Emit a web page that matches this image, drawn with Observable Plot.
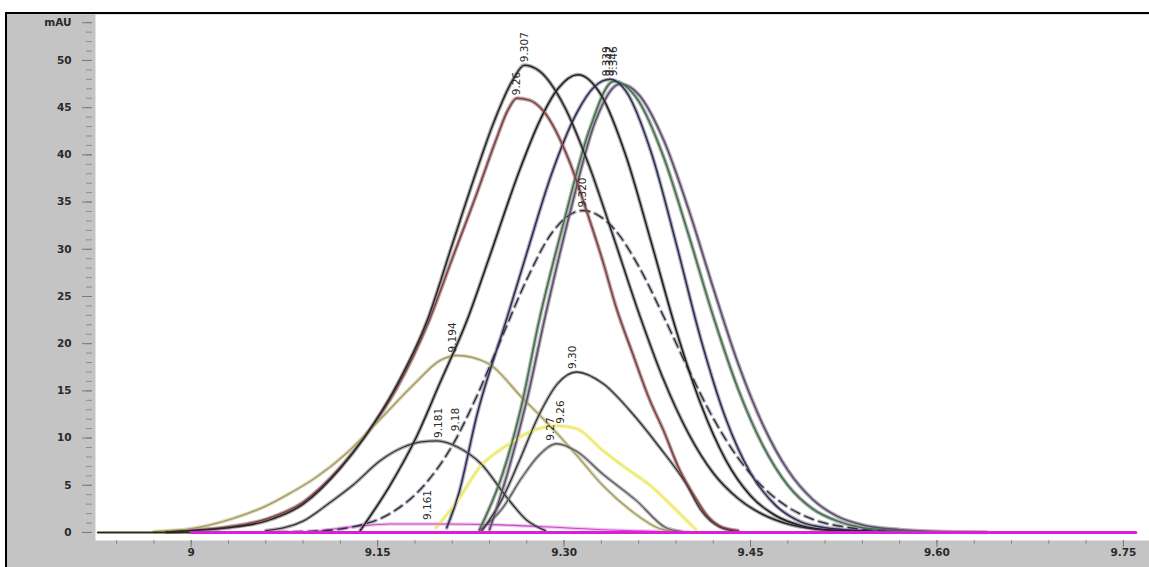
<!DOCTYPE html>
<html><head><meta charset="utf-8">
<script src="https://cdn.jsdelivr.net/npm/d3@7"></script>
<script src="https://cdn.jsdelivr.net/npm/@observablehq/plot@0.6"></script>
<style>
html,body{margin:0;padding:0;background:#fff;}
#wrap{position:relative;width:1149px;height:567px;overflow:hidden;}
#panel{position:absolute;left:5px;top:12px;width:1144px;height:555px;background:#c4c4c4;border-left:2px solid #000;border-top:2px solid #000;box-sizing:border-box;}
#chart{position:absolute;left:0;top:0;}
</style></head><body>
<div id="wrap"><div id="panel"></div><div id="chart"></div></div>
<script>
// ---- data (retention time in min, absorbance in mAU) ----
const peakA_t = [8.98, 9.00, 9.03, 9.06, 9.09, 9.12, 9.14, 9.165, 9.19, 9.21, 9.227, 9.243, 9.259, 9.268, 9.28, 9.30, 9.32, 9.34, 9.36, 9.38, 9.40, 9.42, 9.44, 9.46, 9.48, 9.50, 9.53, 9.57];
const peakA_v = [0.05, 0.2, 0.5, 1.2, 3.0, 6.8, 10.2, 15.5, 22.5, 30.5, 37.3, 43.3, 48.0, 49.5, 48.9, 45.2, 38.9, 31.2, 23.3, 16.2, 10.5, 6.3, 3.6, 1.9, 0.9, 0.4, 0.15, 0.05];

const peakR_t = [8.98, 9.00, 9.03, 9.06, 9.09, 9.12, 9.14, 9.165, 9.19, 9.21, 9.23, 9.245, 9.255, 9.262, 9.272, 9.283, 9.304, 9.318, 9.331, 9.342, 9.355, 9.369, 9.38, 9.393, 9.405, 9.415, 9.425, 9.44];
const peakR_v = [0.05, 0.2, 0.6, 1.4, 3.2, 6.9, 10.2, 15.2, 22.0, 29.0, 36.0, 41.5, 44.8, 46.0, 45.8, 44.7, 39.4, 34.1, 28.8, 23.8, 19.0, 14.0, 10.8, 6.6, 3.8, 1.8, 0.7, 0.2];

const peakB_t = [9.136, 9.16, 9.18, 9.20, 9.222, 9.24, 9.264, 9.28, 9.295, 9.311, 9.33, 9.35, 9.37, 9.39, 9.41, 9.43, 9.45, 9.47, 9.49, 9.52, 9.56];
const peakB_v = [0.2, 5.0, 9.8, 15.8, 22.5, 29.2, 38.3, 43.5, 47.0, 48.5, 46.3, 39.8, 30.8, 21.5, 13.6, 7.7, 3.9, 1.8, 0.75, 0.2, 0.05];

const peakC1_t = [9.2056, 9.215, 9.23, 9.254, 9.27, 9.29, 9.31, 9.325, 9.337, 9.35, 9.37, 9.39, 9.41, 9.43, 9.45, 9.47, 9.49, 9.51, 9.54, 9.58];
const peakC1_v = [0.5, 4.0, 12.5, 22.7, 29.6, 38.0, 44.4, 47.3, 48.0, 46.7, 40.3, 30.7, 20.5, 12.1, 6.3, 2.9, 1.15, 0.5, 0.2, 0.05];

const peakC2_t = [9.232, 9.25, 9.265, 9.28, 9.30, 9.32, 9.34, 9.36, 9.38, 9.40, 9.42, 9.44, 9.46, 9.48, 9.50, 9.52, 9.54, 9.57, 9.61];
const peakC2_v = [0.3, 6.0, 13.0, 22.5, 33.0, 42.5, 47.8, 45.7, 39.8, 31.6, 22.9, 15.2, 9.2, 5.0, 2.5, 1.2, 0.5, 0.2, 0.05];

const peakC3_t = [9.24, 9.255, 9.27, 9.285, 9.305, 9.325, 9.345, 9.36, 9.38, 9.40, 9.42, 9.44, 9.46, 9.48, 9.50, 9.52, 9.54, 9.57, 9.60, 9.64];
const peakC3_v = [0.3, 6.5, 14.0, 23.0, 34.0, 43.5, 47.5, 46.4, 41.6, 34.3, 25.9, 17.9, 11.4, 6.6, 3.5, 1.7, 0.8, 0.3, 0.1, 0.03];

const peakD_t = [9.07, 9.10, 9.13, 9.16, 9.19, 9.21, 9.23, 9.25, 9.27, 9.29, 9.315, 9.34, 9.36, 9.38, 9.40, 9.42, 9.44, 9.46, 9.48, 9.50, 9.53, 9.56];
const peakD_v = [0.05, 0.15, 0.6, 2.0, 5.4, 9.2, 14.5, 20.7, 26.8, 31.7, 34.1, 32.2, 28.2, 22.9, 17.3, 12.1, 7.9, 4.8, 2.7, 1.4, 0.5, 0.15];

const peakO_t = [8.97, 9.00, 9.034, 9.06, 9.08, 9.10, 9.125, 9.152, 9.18, 9.20, 9.214, 9.239, 9.266, 9.288, 9.31, 9.331, 9.355, 9.377, 9.39];
const peakO_v = [0.1, 0.4, 1.5, 2.8, 4.2, 5.8, 8.4, 12.0, 15.8, 18.2, 18.75, 17.9, 14.3, 11.4, 8.2, 5.0, 2.2, 0.4, 0.1];

const peakP_t = [9.234, 9.25, 9.264, 9.28, 9.295, 9.31, 9.331, 9.353, 9.377, 9.398, 9.41, 9.425, 9.44];
const peakP_v = [0.2, 3.5, 7.6, 12.5, 15.8, 17.0, 15.8, 12.9, 9.0, 5.2, 2.4, 0.6, 0.1];

const peakY_t = [9.197, 9.215, 9.232, 9.255, 9.275, 9.295, 9.31, 9.331, 9.35, 9.371, 9.39, 9.406];
const peakY_v = [0.5, 3.5, 6.9, 9.3, 10.8, 11.3, 11.0, 8.7, 6.8, 4.8, 2.4, 0.3];

const peakG_t = [9.232, 9.25, 9.266, 9.28, 9.294, 9.31, 9.331, 9.358, 9.382, 9.395];
const peakG_v = [0.2, 2.5, 5.8, 8.2, 9.4, 8.6, 6.2, 3.4, 0.5, 0.1];

const peakS_t = [9.06, 9.09, 9.112, 9.13, 9.152, 9.17, 9.185, 9.198, 9.215, 9.233, 9.254, 9.27, 9.285];
const peakS_v = [0.2, 1.2, 3.2, 5.0, 7.6, 9.0, 9.6, 9.7, 9.0, 7.3, 3.7, 1.3, 0.2];

const peakM_t = [9.10, 9.13, 9.16, 9.20, 9.25, 9.30, 9.35, 9.40];
const peakM_v = [0.1, 0.6, 0.9, 0.9, 0.8, 0.5, 0.2, 0.05];

const baseDark_t = [8.925, 9.0];
const baseDark_v = [0, 0];
const baseMag_t = [9.0, 9.76];
const baseMag_v = [0, 0];

const labelText = ["9.26", "9.307", "9.339", "9.342", "9.346", "9.320", "9.194", "9.30", "9.26", "9.27", "9.181", "9.18", "9.161"];
const labelTime = [9.262, 9.268, 9.334, 9.337, 9.340, 9.315, 9.210, 9.307, 9.297, 9.289, 9.199, 9.213, 9.19];
const labelHeight = [46.0, 49.5, 48.0, 48.0, 48.0, 34.1, 18.75, 17.0, 11.2, 9.4, 9.7, 10.4, 1.0];

const yTicks = [0, 5, 10, 15, 20, 25, 30, 35, 40, 45, 50];
const yUnitLabel = "mAU";
const yUnitAt = 54;
const xTicks = [9, 9.15, 9.30, 9.45, 9.60, 9.75];
const xTickLabels = ["9", "9.15", "9.30", "9.45", "9.60", "9.75"];

// ---- styles (kept apart from the data) ----
const series = [
  ["O", peakO_t, peakO_v, {stroke: "#a39a5c", halo: "#d6d2b4", w: 1.3}],
  ["Y", peakY_t, peakY_v, {stroke: "#eeea6a", halo: "#f6f4c0", w: 2.0}],
  ["M", peakM_t, peakM_v, {stroke: "#cc44cc", halo: "#e8c0e8", w: 1.1}],
  ["S", peakS_t, peakS_v, {stroke: "#333333", halo: "#a8a8a8", w: 1.3}],
  ["G", peakG_t, peakG_v, {stroke: "#5c5c5c", halo: "#b4b4b4", w: 1.3}],
  ["P", peakP_t, peakP_v, {stroke: "#333333", halo: "#a8a8a8", w: 1.3}],
  ["D", peakD_t, peakD_v, {stroke: "#2e2e3e", halo: "#b0b0b8", w: 1.4, dash: "9,6"}],
  ["C3", peakC3_t, peakC3_v, {stroke: "#5e4a6e", halo: "#a4a0a8", w: 1.5}],
  ["C2", peakC2_t, peakC2_v, {stroke: "#3f7048", halo: "#a0a8a2", w: 1.5}],
  ["C1", peakC1_t, peakC1_v, {stroke: "#2c2c58", halo: "#a0a0ac", w: 1.5}],
  ["B", peakB_t, peakB_v, {stroke: "#1e1e1e", halo: "#9c9c9c", w: 1.5}],
  ["R", peakR_t, peakR_v, {stroke: "#8b3b3b", halo: "#a89a9a", w: 1.5}],
  ["A", peakA_t, peakA_v, {stroke: "#262626", halo: "#9c9c9c", w: 1.5}]
];

const toRows = (t, v) => t.map((x, i) => ({t: x, v: v[i]}));

const marks = [Plot.frame({fill: "white", stroke: "none"})];

for (const [name, t, v, s] of series) {
  marks.push(Plot.line(toRows(t, v), {x: "t", y: "v", curve: "monotone-x", stroke: s.halo, strokeWidth: s.w + 2.4, strokeDasharray: s.dash, strokeOpacity: 0.85}));
}
for (const [name, t, v, s] of series) {
  marks.push(Plot.line(toRows(t, v), {x: "t", y: "v", curve: "monotone-x", stroke: s.stroke, strokeWidth: s.w, strokeDasharray: s.dash}));
}
marks.push(Plot.line(toRows(baseDark_t, baseDark_v), {x: "t", y: "v", stroke: "#2a2a10", strokeWidth: 2.2}));
marks.push(Plot.line(toRows(baseMag_t, baseMag_v), {x: "t", y: "v", stroke: "#dc1edc", strokeWidth: 3}));

const labels = labelText.map((s, i) => ({text: s, t: labelTime[i], v: labelHeight[i]}));
marks.push(Plot.text(labels, {x: "t", y: "v", text: "text", rotate: -90, textAnchor: "start", lineAnchor: "middle", dy: -3, fontSize: 10.5, fill: "#2a2a2a"}));

// axes
const yMinor = d3.range(0, 55, 1);
const xMinor = d3.range(8.94, 9.77, 0.03);
marks.push(Plot.axisY({ticks: yMinor, tickSize: 6, dx: -3, stroke: "#8c8c8c", tickFormat: () => "", label: null}));
marks.push(Plot.axisY({ticks: [...yTicks, yUnitAt], tickSize: 10, tickPadding: 11, dx: -3, stroke: "#7a7a7a", color: "#2a2a2a", fontSize: 10.5, fontWeight: "bold", label: null,
  tickFormat: d => d === yUnitAt ? yUnitLabel : String(d)}));
marks.push(Plot.axisX({ticks: xMinor, tickSize: 4, stroke: "#8c8c8c", tickFormat: () => "", label: null}));
marks.push(Plot.axisX({ticks: xTicks, tickSize: 7, tickPadding: 1, stroke: "#7a7a7a", color: "#2a2a2a", fontSize: 10.5, fontWeight: "bold", label: null,
  tickFormat: d => xTickLabels[xTicks.indexOf(d)]}));

const chart = Plot.plot({
  width: 1149,
  height: 567,
  marginLeft: 95,
  marginRight: 0,
  marginTop: 14,
  marginBottom: 27,
  x: {domain: [8.923, 9.771]},
  y: {domain: [-0.85, 54.87]},
  style: {background: "transparent", fontFamily: "'DejaVu Sans', Verdana, sans-serif", fontSize: "11px", overflow: "visible"},
  marks
});
document.getElementById("chart").appendChild(chart);
</script></body></html>
